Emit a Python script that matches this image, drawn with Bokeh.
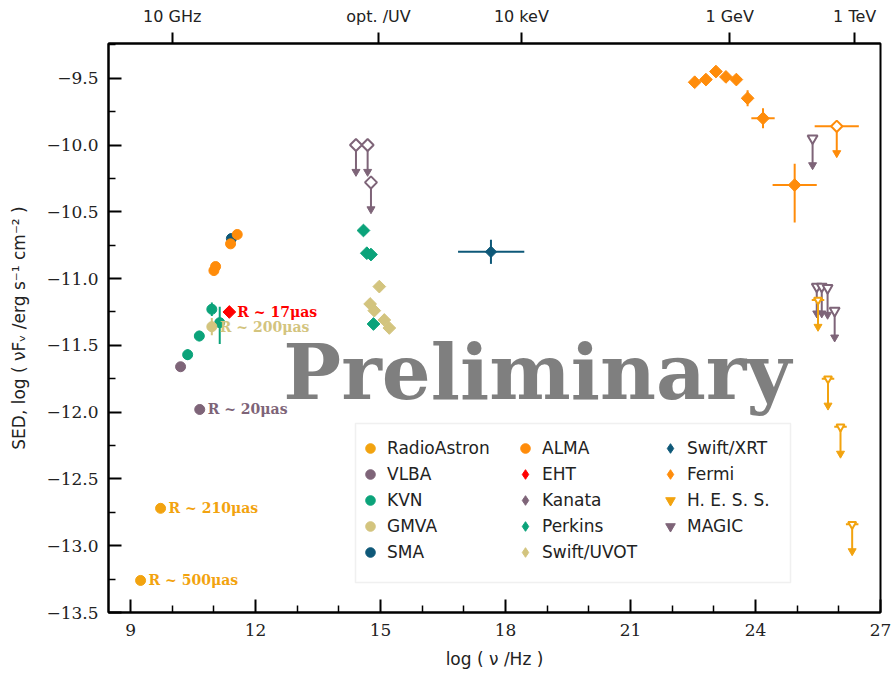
import numpy as np
from bokeh.plotting import figure
from bokeh.models import (Range1d, LinearAxis, FixedTicker, Legend, LegendItem,
                          CustomJSTickFormatter, BoxAnnotation)
from bokeh.core.properties import value
from bokeh.embed import file_html
from bokeh.resources import INLINE

# ---------------- data (log nu [Hz], log nuFnu [erg s^-1 cm^-2]) ----------------
radioastron_x = [9.72, 9.24]
radioastron_y = [-12.72, -13.26]
radioastron_lab = ["R ~ 210μas", "R ~ 500μas"]

vlba_x = [10.20, 10.66]
vlba_y = [-11.66, -11.98]
vlba_lab_x = [10.66]
vlba_lab_y = [-11.98]
vlba_lab = ["R ~ 20μas"]

kvn_x = [10.37, 10.65, 10.95, 11.14]
kvn_y = [-11.57, -11.43, -11.23, -11.33]
kvn_elo = [0.04, 0.04, 0.05, 0.16]
kvn_ehi = [0.04, 0.04, 0.05, 0.12]

gmva_x = [10.95]
gmva_y = [-11.36]
gmva_err = [0.065]
gmva_lab = ["R ~ 200μas"]

sma_x = [11.42]
sma_y = [-10.70]

alma_x = [11.00, 11.04, 11.40, 11.56]
alma_y = [-10.94, -10.91, -10.74, -10.67]

eht_x = [11.37]
eht_y = [-11.25]
eht_lab = ["R ~ 17μas"]

kanata_x = [14.41, 14.69, 14.77]
kanata_y = [-10.00, -10.00, -10.28]

perkins_x = [14.59, 14.67, 14.77, 14.83]
perkins_y = [-10.64, -10.81, -10.82, -11.34]

uvot_x = [14.75, 14.85, 14.97, 15.09, 15.21]
uvot_y = [-11.19, -11.24, -11.06, -11.31, -11.37]

xrt_x = [17.65]
xrt_y = [-10.80]
xrt_xlo = [0.79]
xrt_xhi = [0.80]
xrt_yerr = [0.09]

fermi_x = [22.54, 22.81, 23.05, 23.29, 23.54, 23.81, 24.18, 24.94]
fermi_y = [-9.53, -9.51, -9.45, -9.49, -9.51, -9.65, -9.80, -10.30]
fermi_xerr = [0.0, 0.0, 0.0, 0.0, 0.0, 0.0, 0.28, 0.53]
fermi_ylo = [0.02, 0.02, 0.02, 0.02, 0.03, 0.06, 0.075, 0.28]
fermi_yhi = [0.02, 0.02, 0.02, 0.02, 0.03, 0.06, 0.075, 0.16]

fermi_ul_x = [25.95]
fermi_ul_y = [-9.86]
fermi_ul_xerr = [0.53]

hess_x = [25.50, 25.74, 26.04, 26.32]
hess_y = [-11.16, -11.75, -12.11, -12.84]
hess_xerr = [0.15, 0.15, 0.15, 0.15]

magic_x = [25.37, 25.47, 25.59, 25.73, 25.90]
magic_y = [-9.95, -11.06, -11.06, -11.07, -11.24]

ul_length = 0.2

watermark_x = [18.76]
watermark_y = [-11.70]
watermark_text = ["Preliminary"]

x_major = [9, 12, 15, 18, 21, 24, 27]
x_minor = [10, 11, 13, 14, 16, 17, 19, 20, 22, 23, 25, 26]
y_major = [-13.5, -13.0, -12.5, -12.0, -11.5, -11.0, -10.5, -10.0, -9.5]
y_minor = [-13.25, -12.75, -12.25, -11.75, -11.25, -10.75, -10.25, -9.75, -9.25]
top_ticks = [10.0, 14.95, 18.38, 23.38, 26.38]
top_labels = ["10 GHz", "opt. /UV", "10 keV", "1 GeV", "1 TeV"]

# ---------------- colours ----------------
C_RA = "#f2a30f"
C_VLBA = "#7e6478"
C_KVN = "#0ba37a"
C_GMVA = "#d3c47e"
C_SMA = "#0e5878"
C_ALMA = "#ff8c0a"
C_EHT = "#ff0000"

p = figure(width=893, height=673, output_backend="svg", toolbar_location=None,
           x_range=Range1d(8.47, 27.0), y_range=Range1d(-13.5, -9.24),
           min_border_left=108, min_border_right=13, min_border_top=43, min_border_bottom=61,
           background_fill_color="white", border_fill_color="white")
p.grid.visible = False
p.outline_line_color = "black"
p.outline_line_width = 2

for ax in (p.xaxis[0], p.yaxis[0]):
    ax.axis_line_width = 2
    ax.major_tick_in = 13
    ax.major_tick_out = 0
    ax.minor_tick_in = 7
    ax.minor_tick_out = 0
    ax.major_tick_line_width = 2
    ax.minor_tick_line_width = 1.5
    ax.major_label_text_font = "DejaVu Serif"
    ax.major_label_text_font_size = "17px"
    ax.major_label_text_color = "#222222"
    ax.axis_label_text_font = "DejaVu Sans"
    ax.axis_label_text_font_size = "17px"
    ax.axis_label_text_font_style = "normal"
    ax.axis_label_text_color = "#222222"

p.xaxis[0].ticker = FixedTicker(ticks=x_major, minor_ticks=x_minor)
p.yaxis[0].ticker = FixedTicker(ticks=y_major, minor_ticks=y_minor)
p.yaxis[0].formatter = CustomJSTickFormatter(
    code="return (tick < 0 ? '\u2212' : '') + Math.abs(tick).toFixed(1);")
p.xaxis[0].axis_label = "log ( \u03bd /Hz )"
p.yaxis[0].axis_label = "SED, log ( \u03bdF\u1d65 /erg s\u207b\u00b9 cm\u207b\u00b2 )"
p.xaxis[0].major_label_standoff = 11
p.xaxis[0].axis_label_standoff = 10
p.yaxis[0].major_label_standoff = 10
p.yaxis[0].axis_label_standoff = 14

top = LinearAxis(ticker=FixedTicker(ticks=top_ticks),
                 major_label_overrides={t: l for t, l in zip(top_ticks, top_labels)})
top.axis_line_width = 2
top.major_tick_in = 0
top.major_tick_out = 11
top.major_tick_line_width = 2
top.minor_tick_in = 0
top.minor_tick_out = 0
top.major_label_standoff = 7
top.major_label_text_font = "DejaVu Sans"
top.major_label_text_font_size = "16px"
top.major_label_text_color = "#222222"
p.add_layout(top, "above")

# ---------------- helpers ----------------
def yerr(xs, ys, lo, hi, color, lw=2):
    xs = np.asarray(xs, float); ys = np.asarray(ys, float)
    p.segment(x0=xs, y0=ys - np.asarray(lo), x1=xs, y1=ys + np.asarray(hi),
              line_color=color, line_width=lw)

def xerr(xs, ys, lo, hi, color, lw=2):
    xs = np.asarray(xs, float); ys = np.asarray(ys, float)
    p.segment(x0=xs - np.asarray(lo), y0=ys, x1=xs + np.asarray(hi), y1=ys,
              line_color=color, line_width=lw)

def uplim(xs, ys, color):
    xs = np.asarray(xs, float); ys = np.asarray(ys, float)
    p.segment(x0=xs, y0=ys, x1=xs, y1=ys - ul_length, line_color=color, line_width=2)
    p.scatter(xs, ys - ul_length, marker="inverted_triangle", size=8, color=color)

def labels(xs, ys, texts, color):
    p.text(x=xs, y=ys, text=texts, x_offset=8, text_baseline="middle", text_align="left",
           text_font=value("DejaVu Serif"), text_font_style="bold", text_font_size="14px",
           text_color=color)

def legend_diamond(xs, ys, color):
    # small diamond (legend style) hidden under the plotted marker
    return p.scatter(xs, ys, marker="diamond", size=5, color=color)

DANG = np.pi / 4

# watermark (text glyph)
p.text(x=watermark_x, y=watermark_y, text=watermark_text, text_align="center",
       text_baseline="middle", text_font=value("DejaVu Serif"), text_font_style="bold",
       text_font_size="77px", text_color="#7f7f7f")

R = {}
# ---------------- radio ----------------
R["RadioAstron"] = p.scatter(radioastron_x, radioastron_y, marker="circle", size=10, color=C_RA)
labels(radioastron_x, radioastron_y, radioastron_lab, C_RA)

R["VLBA"] = p.scatter(vlba_x, vlba_y, marker="circle", size=10, color=C_VLBA)
labels(vlba_lab_x, vlba_lab_y, vlba_lab, C_VLBA)

yerr(kvn_x, kvn_y, kvn_elo, kvn_ehi, C_KVN)
R["KVN"] = p.scatter(kvn_x, kvn_y, marker="circle", size=10, color=C_KVN)

yerr(gmva_x, gmva_y, gmva_err, gmva_err, C_GMVA)
R["GMVA"] = p.scatter(gmva_x, gmva_y, marker="circle", size=10, color=C_GMVA)
labels(gmva_x, gmva_y, gmva_lab, C_GMVA)

R["SMA"] = p.scatter(sma_x, sma_y, marker="circle", size=10, color=C_SMA)
R["ALMA"] = p.scatter(alma_x, alma_y, marker="circle", size=10, color=C_ALMA)

R["EHT"] = legend_diamond(eht_x, eht_y, C_EHT)
p.scatter(eht_x, eht_y, marker="square", angle=DANG, size=9, color=C_EHT)
labels(eht_x, eht_y, eht_lab, C_EHT)

# ---------------- optical ----------------
uplim(kanata_x, kanata_y, C_VLBA)
R["Kanata"] = legend_diamond(kanata_x, kanata_y, C_VLBA)
p.scatter(kanata_x, kanata_y, marker="square", angle=DANG, size=8.5, fill_color="white",
          line_color=C_VLBA, line_width=2)
R["Perkins"] = legend_diamond(perkins_x, perkins_y, C_KVN)
p.scatter(perkins_x, perkins_y, marker="square", angle=DANG, size=9, color=C_KVN)
R["Swift/UVOT"] = legend_diamond(uvot_x, uvot_y, C_GMVA)
p.scatter(uvot_x, uvot_y, marker="square", angle=DANG, size=9, color=C_GMVA)

# ---------------- X-ray ----------------
xerr(xrt_x, xrt_y, xrt_xlo, xrt_xhi, C_SMA)
yerr(xrt_x, xrt_y, xrt_yerr, xrt_yerr, C_SMA)
R["Swift/XRT"] = legend_diamond(xrt_x, xrt_y, C_SMA)
p.scatter(xrt_x, xrt_y, marker="square", angle=DANG, size=8, color=C_SMA)

# ---------------- gamma ----------------
xerr(fermi_x, fermi_y, fermi_xerr, fermi_xerr, C_ALMA)
yerr(fermi_x, fermi_y, fermi_ylo, fermi_yhi, C_ALMA)
R["Fermi"] = legend_diamond(fermi_x, fermi_y, C_ALMA)
p.scatter(fermi_x, fermi_y, marker="square", angle=DANG, size=9, color=C_ALMA)

xerr(fermi_ul_x, fermi_ul_y, fermi_ul_xerr, fermi_ul_xerr, C_ALMA)
uplim(fermi_ul_x, fermi_ul_y, C_ALMA)
p.scatter(fermi_ul_x, fermi_ul_y, marker="square", angle=DANG, size=8, fill_color="white",
          line_color=C_ALMA, line_width=2)

uplim(magic_x, magic_y, C_VLBA)
R["MAGIC"] = p.scatter(magic_x, magic_y, marker="inverted_triangle", size=5, color=C_VLBA)
p.scatter(magic_x, magic_y, marker="inverted_triangle", size=10, fill_color="white",
          line_color=C_VLBA, line_width=2)

xerr(hess_x, hess_y, hess_xerr, hess_xerr, C_RA)
uplim(hess_x, hess_y, C_RA)
R["H. E. S. S."] = p.scatter(hess_x, hess_y, marker="inverted_triangle", size=4, color=C_RA)
p.scatter(hess_x, hess_y, marker="inverted_triangle", size=8, fill_color="white",
          line_color=C_RA, line_width=2)

# ---------------- legend: three columns inside one box ----------------
legend_cols = [
    ["RadioAstron", "VLBA", "KVN", "GMVA", "SMA"],
    ["ALMA", "EHT", "Kanata", "Perkins", "Swift/UVOT"],
    ["Swift/XRT", "Fermi", "H. E. S. S.", "MAGIC"],
]

p.add_layout(BoxAnnotation(left=247, right=682, bottom=30, top=189,
                           left_units="screen", right_units="screen",
                           bottom_units="screen", top_units="screen",
                           fill_color="white", fill_alpha=0.9,
                           line_color="#cccccc", line_width=1.5))

col_left = [250, 405, 550]
for col, lx in zip(legend_cols, col_left):
    items = [LegendItem(label=lab, renderers=[R[lab]]) for lab in col]
    n = len(col)
    h = n * 24 + (n - 1) * 2
    legend = Legend(items=items, location=(lx, 48 + (128 - h)),
                    label_text_font="DejaVu Sans", label_text_font_size="17px",
                    label_text_color="#222222",
                    glyph_width=24, glyph_height=24, label_standoff=5, spacing=2,
                    padding=0, margin=0, label_height=20,
                    border_line_alpha=0.0, background_fill_alpha=0.0)
    p.add_layout(legend, "center")

with open("out.html", "w", encoding="utf-8") as f:
    f.write(file_html(p, INLINE))
